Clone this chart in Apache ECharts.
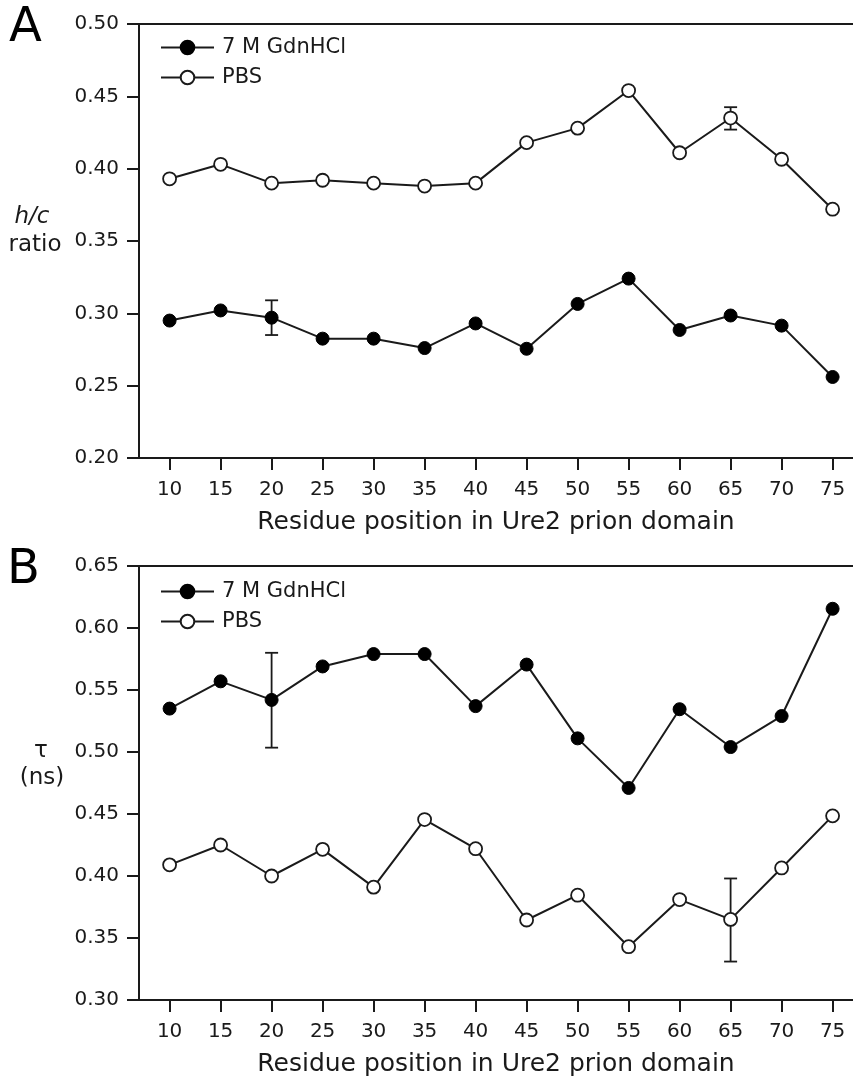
<!DOCTYPE html>
<html>
<head>
  <meta charset="utf-8">
  <title>h/c ratio and tau</title>
  <script src="https://cdn.jsdelivr.net/npm/echarts@6/dist/echarts.min.js"></script>
  <style type="text/css">
    body {
      margin: 0;
      padding: 0;
      background: #fff;
    }
    #main {
      width: 853px;
      height: 1081px;
    }
  </style>
</head>
<body>
<div id="main"></div>
<script>
  // residue positions (x)
  var positions = [10, 15, 20, 25, 30, 35, 40, 45, 50, 55, 60, 65, 70, 75];

  // panel A: h/c ratio
  var ratioGdn = [0.295, 0.302, 0.297, 0.2825, 0.2825, 0.276, 0.293, 0.2755, 0.3065, 0.324, 0.2885, 0.2985, 0.2915, 0.256];
  var ratioPbs = [0.393, 0.403, 0.390, 0.392, 0.390, 0.388, 0.390, 0.418, 0.428, 0.454, 0.411, 0.435, 0.4065, 0.372];
  // [position, low, high]
  var ratioErr = [[20, 0.285, 0.309], [65, 0.427, 0.4425]];
  var ratioTicks = [0.20, 0.25, 0.30, 0.35, 0.40, 0.45, 0.50];

  // panel B: tau (ns)
  var tauGdn = [0.535, 0.557, 0.542, 0.569, 0.579, 0.579, 0.537, 0.5705, 0.511, 0.471, 0.5345, 0.504, 0.529, 0.6155];
  var tauPbs = [0.409, 0.425, 0.400, 0.4215, 0.391, 0.4455, 0.422, 0.3645, 0.3845, 0.343, 0.381, 0.365, 0.4065, 0.4485];
  var tauErr = [[20, 0.5035, 0.580], [65, 0.331, 0.398]];
  var tauTicks = [0.30, 0.35, 0.40, 0.45, 0.50, 0.55, 0.60, 0.65];

  var FONT = 'DejaVu Sans';
  var INK = '#1a1a1a';

  function pairs(ys) {
    return positions.map(function (x, i) { return [x, ys[i]]; });
  }

  function errorBar(params, api) {
    var x = api.value(0);
    var lo = api.coord([x, api.value(1)]);
    var hi = api.coord([x, api.value(2)]);
    var cap = 6.5;
    var style = {stroke: INK, lineWidth: 1.8};
    return {
      type: 'group',
      children: [
        {type: 'line', shape: {x1: lo[0], y1: lo[1], x2: hi[0], y2: hi[1]}, style: style},
        {type: 'line', shape: {x1: lo[0] - cap, y1: lo[1], x2: lo[0] + cap, y2: lo[1]}, style: style},
        {type: 'line', shape: {x1: hi[0] - cap, y1: hi[1], x2: hi[0] + cap, y2: hi[1]}, style: style}
      ]
    };
  }

  function xAxisBottom(idx) {
    return {
      type: 'value',
      gridIndex: idx,
      min: 7,
      max: 77,
      position: 'bottom',
      name: 'Residue position in Ure2 prion domain',
      nameLocation: 'middle',
      nameGap: 52,
      nameTextStyle: {fontFamily: FONT, fontSize: 25, color: INK},
      axisLine: {show: true, lineStyle: {color: INK, width: 2}},
      axisTick: {show: true, length: 12, lineStyle: {color: INK, width: 2}, customValues: positions},
      axisLabel: {fontFamily: FONT, fontSize: 20, color: INK, margin: 22, customValues: positions},
      splitLine: {show: false}
    };
  }

  function xAxisTop(idx) {
    return {
      type: 'value',
      gridIndex: idx,
      min: 7,
      max: 77,
      position: 'top',
      axisLine: {show: true, lineStyle: {color: INK, width: 2}},
      axisTick: {show: false},
      axisLabel: {show: false},
      splitLine: {show: false}
    };
  }

  function yAxis(idx, ticks) {
    return {
      type: 'value',
      gridIndex: idx,
      min: ticks[0],
      max: ticks[ticks.length - 1],
      interval: 0.05,
      axisLine: {show: true, lineStyle: {color: INK, width: 2}},
      axisTick: {show: true, length: 12, lineStyle: {color: INK, width: 2}},
      axisLabel: {
        fontFamily: FONT, fontSize: 20, color: INK, margin: 20,
        formatter: function (v) { return v.toFixed(2); }
      },
      splitLine: {show: false}
    };
  }

  function lineSeries(name, ys, idx, filled) {
    return {
      name: name,
      type: 'line',
      xAxisIndex: idx * 2,
      yAxisIndex: idx,
      data: pairs(ys),
      symbol: 'circle',
      symbolSize: 13,
      z: 3,
      lineStyle: {color: INK, width: 2},
      itemStyle: filled
        ? {color: '#000', borderColor: '#000', borderWidth: 1}
        : {color: '#fff', borderColor: INK, borderWidth: 1.8},
      emphasis: {disabled: true}
    };
  }

  function errSeries(err, idx) {
    return {
      type: 'custom',
      xAxisIndex: idx * 2,
      yAxisIndex: idx,
      z: 1,
      renderItem: errorBar,
      data: err
    };
  }

  function legend(idx, top) {
    return {
      data: idx === 0 ? ['7 M GdnHCl', 'PBS'] : ['7 M GdnHCl ', 'PBS '],
      orient: 'vertical',
      left: 160,
      top: top,
      padding: 0,
      itemWidth: 53,
      itemHeight: 17,
      itemGap: 9,
      selectedMode: false,
      textStyle: {fontFamily: FONT, fontSize: 21, color: INK, padding: [0, 0, 0, 3]}
    };
  }

  var myChart = echarts.init(document.getElementById('main'), null, {renderer: 'canvas'});

  var option = {
    backgroundColor: '#fff',
    animation: false,
    grid: [
      {left: 139, top: 24, right: 0, height: 434},
      {left: 139, top: 566, right: 0, height: 434}
    ],
    legend: [legend(0, 37), legend(1, 581)],
    xAxis: [xAxisBottom(0), xAxisTop(0), xAxisBottom(1), xAxisTop(1)],
    yAxis: [yAxis(0, ratioTicks), yAxis(1, tauTicks)],
    series: [
      errSeries(ratioErr, 0),
      lineSeries('7 M GdnHCl', ratioGdn, 0, true),
      lineSeries('PBS', ratioPbs, 0, false),
      errSeries(tauErr, 1),
      lineSeries('7 M GdnHCl ', tauGdn, 1, true),
      lineSeries('PBS ', tauPbs, 1, false)
    ],
    graphic: [
      {type: 'text', left: 9, top: 5, style: {text: 'A', font: '48px "DejaVu Sans"', fill: '#000'}},
      {type: 'text', left: 7, top: 547, style: {text: 'B', font: '48px "DejaVu Sans"', fill: '#000'}},
      {type: 'text', x: 32, y: 217, style: {text: 'h/c', font: 'italic 23px "DejaVu Sans"', fill: INK, align: 'center', verticalAlign: 'middle'}},
      {type: 'text', x: 35, y: 245, style: {text: 'ratio', font: '23px "DejaVu Sans"', fill: INK, align: 'center', verticalAlign: 'middle'}},
      {type: 'text', x: 41, y: 751, style: {text: 'τ', font: '23px "DejaVu Sans"', fill: INK, align: 'center', verticalAlign: 'middle'}},
      {type: 'text', x: 42, y: 778, style: {text: '(ns)', font: '23px "DejaVu Sans"', fill: INK, align: 'center', verticalAlign: 'middle'}}
    ]
  };

  myChart.setOption(option);
  window.addEventListener('resize', function () {
    myChart.resize();
  });
</script>
</body>
</html>
